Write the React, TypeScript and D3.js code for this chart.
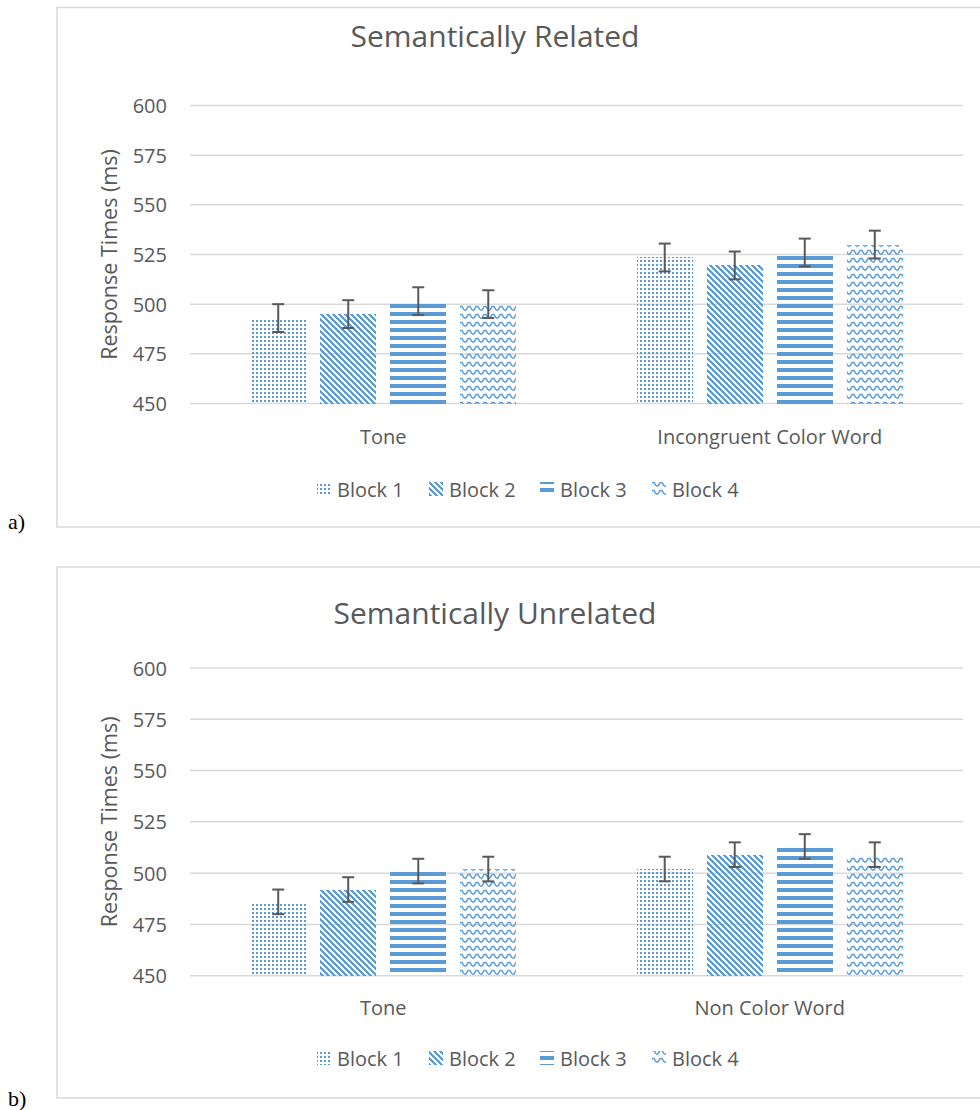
import React from "react";
import * as d3 from "d3";

const seriesNames = ["Block 1", "Block 2", "Block 3", "Block 4"];
const yTicks = [450, 475, 500, 525, 550, 575, 600];

const relatedCategories = ["Tone", "Incongruent Color Word"];
const relatedBlock1 = [493, 523.5];
const relatedBlock2 = [495, 519.5];
const relatedBlock3 = [501.5, 526];
const relatedBlock4 = [500, 530];
const relatedErrors = [7, 7, 7, 7];

const unrelatedCategories = ["Tone", "Non Color Word"];
const unrelatedBlock1 = [486, 502];
const unrelatedBlock2 = [492, 509];
const unrelatedBlock3 = [501, 513];
const unrelatedBlock4 = [502, 509];
const unrelatedErrors = [6, 6, 6, 6];

const BLUE = "#5B9BD5";
const TEXT = "#595959";
const GRID = "#D9D9D9";
const FONT = "'Open Sans', sans-serif";

const patternIds = ["pDots", "pDiag", "pHorz", "pWave"];

function Patterns() {
  const diagRects = [];
  for (let y = 0; y < 6; y++) {
    for (let k = 0; k < 3; k++) {
      const x = (y + k) % 6;
      diagRects.push(<rect key={`${y}-${k}`} x={x} y={y} width={1} height={1} fill={BLUE} />);
    }
  }
  return (
    <defs>
      <pattern id="pDots" patternUnits="userSpaceOnUse" width={4} height={4}>
        <rect x={0} y={0} width={2} height={2} fill={BLUE} />
      </pattern>
      <pattern id="pDiag" patternUnits="userSpaceOnUse" width={6} height={6}>
        {diagRects}
      </pattern>
      <pattern id="pHorz" patternUnits="userSpaceOnUse" width={8} height={8}>
        <rect x={0} y={0} width={8} height={4} fill={BLUE} />
      </pattern>
      <pattern id="pWave" patternUnits="userSpaceOnUse" width={8} height={8}>
        <path d="M0,6 L2,6 L4,2.5 L6,2.5 L8,6" fill="none" stroke={BLUE} strokeWidth={1.5} />
      </pattern>
    </defs>
  );
}

type PanelProps = {
  title: string;
  categories: string[];
  series: number[][];
  errors: number[];
  boxTop: number;
  boxBottom: number;
  yBottom: number;
  yTop: number;
  titleY: number;
  catY: number;
  legendY: number;
  tag: string;
  tagY: number;
};

function Panel(p: PanelProps) {
  const x0 = d3.scaleBand<string>().domain(p.categories).range([190, 963]).paddingInner(0).paddingOuter(0);
  const x1 = d3.scaleBand<string>().domain(seriesNames).range([0, x0.bandwidth()]).paddingInner(0.2).paddingOuter(0.86);
  const y = d3.scaleLinear().domain([450, 600]).range([p.yBottom, p.yTop]);
  const yMid = (p.yBottom + p.yTop) / 2;

  const legendItems = [
    { x: 317, id: "pDots" },
    { x: 429, id: "pDiag" },
    { x: 540, id: "pHorz" },
    { x: 652, id: "pWave" },
  ];

  return (
    <g>
      <rect x={57} y={p.boxTop} width={1000} height={p.boxBottom - p.boxTop} fill="#fff" stroke={GRID} strokeWidth={1.5} />
      <text x={8} y={p.tagY} fontFamily="'Liberation Serif', serif" fontSize={22} fill="#000">{p.tag}</text>
      <text x={495} y={p.titleY} textAnchor="middle" dominantBaseline="central" fontFamily={FONT} fontSize={30} fill={TEXT}>{p.title}</text>
      {yTicks.map((t) => (
        <g key={t}>
          <line x1={190} x2={963} y1={y(t)} y2={y(t)} stroke={GRID} strokeWidth={1.5} />
          <text x={167} y={y(t)} textAnchor="end" dominantBaseline="central" fontFamily={FONT} fontSize={20} fill={TEXT}>{t}</text>
        </g>
      ))}
      <text transform={`translate(108,${yMid}) rotate(-90)`} textAnchor="middle" dominantBaseline="central" fontFamily={FONT} fontSize={21.5} fill={TEXT}>Response Times (ms)</text>
      {p.series.map((vals, si) =>
        vals.map((v, ci) => {
          const cat = p.categories[ci];
          const bx = (x0(cat) ?? 0) + (x1(seriesNames[si]) ?? 0);
          const bw = x1.bandwidth();
          const cx = bx + bw / 2;
          const e = p.errors[si];
          return (
            <g key={`${si}-${ci}`}>
              <rect x={bx} y={y(v)} width={bw} height={y(450) - y(v)} fill={`url(#${patternIds[si]})`} shapeRendering="crispEdges" />
              <line x1={cx} x2={cx} y1={y(v + e)} y2={y(v - e)} stroke="#595959" strokeWidth={2} />
              <line x1={cx - 6} x2={cx + 6} y1={y(v + e)} y2={y(v + e)} stroke="#595959" strokeWidth={2} />
              <line x1={cx - 6} x2={cx + 6} y1={y(v - e)} y2={y(v - e)} stroke="#595959" strokeWidth={2} />
            </g>
          );
        })
      )}
      {p.categories.map((c) => (
        <text key={c} x={(x0(c) ?? 0) + x0.bandwidth() / 2} y={p.catY} textAnchor="middle" dominantBaseline="central" fontFamily={FONT} fontSize={20} fill={TEXT}>{c}</text>
      ))}
      {legendItems.map((li, i) => (
        <g key={li.id}>
          <rect x={li.x} y={p.legendY - 7} width={14} height={14} fill={`url(#${li.id})`} shapeRendering="crispEdges" />
          <text x={li.x + 20} y={p.legendY} dominantBaseline="central" fontFamily={FONT} fontSize={20} fill={TEXT}>{seriesNames[i]}</text>
        </g>
      ))}
    </g>
  );
}

export default function App() {
  return (
    <svg width={980} height={1110} style={{ position: "absolute", left: 0, top: 0, background: "#fff" }}>
      <Patterns />
      <Panel
        title="Semantically Related"
        categories={relatedCategories}
        series={[relatedBlock1, relatedBlock2, relatedBlock3, relatedBlock4]}
        errors={relatedErrors}
        boxTop={7.5}
        boxBottom={527}
        yBottom={403.5}
        yTop={105.5}
        titleY={35}
        catY={436}
        legendY={489}
        tag="a)"
        tagY={529}
      />
      <Panel
        title="Semantically Unrelated"
        categories={unrelatedCategories}
        series={[unrelatedBlock1, unrelatedBlock2, unrelatedBlock3, unrelatedBlock4]}
        errors={unrelatedErrors}
        boxTop={567}
        boxBottom={1098}
        yBottom={975.7}
        yTop={668}
        titleY={612}
        catY={1007}
        legendY={1058}
        tag="b)"
        tagY={1106}
      />
    </svg>
  );
}
